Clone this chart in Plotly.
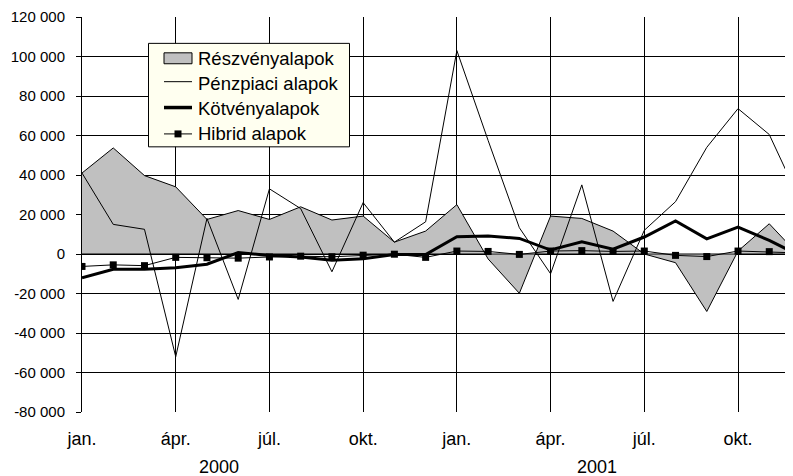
import plotly.graph_objects as go

# categories: months Jan 2000 .. Dec 2001
months = ["2000-01", "2000-02", "2000-03", "2000-04", "2000-05", "2000-06",
          "2000-07", "2000-08", "2000-09", "2000-10", "2000-11", "2000-12",
          "2001-01", "2001-02", "2001-03", "2001-04", "2001-05", "2001-06",
          "2001-07", "2001-08", "2001-09", "2001-10", "2001-11", "2001-12"]
x_idx = list(range(len(months)))

reszveny = [41000, 53700, 39700, 34000, 17500, 22000, 17500, 23900, 17200, 19200, 6000, 11600,
            25000, -2500, -19900, 19200, 18000, 11600, 0, -4400, -29100, 1500, 15300, -1500]
penzpiaci = [41000, 15000, 12500, -52000, 18000, -23000, 33000, 23000, -9000, 26000, 6000, 16300,
             103000, 57500, 13300, -10000, 35000, -24000, 12000, 26500, 54000, 73600, 60500, 26500]
kotveny = [-12000, -7700, -7700, -6900, -5200, 700, -700, -1500, -3200, -2400, -300, -300,
           8700, 9100, 7900, 2000, 6200, 2400, 8600, 16700, 7700, 13600, 6900, -1000]
hibrid = [-6300, -5500, -5900, -1700, -1900, -2100, -1500, -1100, -1400, -600, -100, -1700,
          1500, 1300, -200, 1500, 1700, 1300, 1500, -700, -1300, 1500, 1200, 500]

series_names = ["Részvényalapok", "Pénzpiaci alapok", "Kötvényalapok", "Hibrid alapok"]

x_tick_pos = [0, 3, 6, 9, 12, 15, 18, 21]
x_tick_text = ["jan.", "ápr.", "júl.", "okt.", "jan.", "ápr.", "júl.", "okt."]
year_labels = ["2000", "2001"]
year_pos = [4.4, 16.5]

y_tick_vals = [120000, 100000, 80000, 60000, 40000, 20000, 0, -20000, -40000, -60000, -80000]
y_tick_text = ["120 000", "100 000", "80 000", "60 000", "40 000", "20 000", "0",
               "-20 000", "-40 000", "-60 000", "-80 000"]

FONT = "Liberation Sans, Arial, sans-serif"

# layout geometry (figure pixels; the page adds an 8px body margin)
W, H = 785, 468
ML, MR, MT, MB = 74, 0, 7, 64
PW, PH = W - ML - MR, H - MT - MB
OFF = 8


def px(xs):
    return (xs - OFF - ML) / PW


def py(ys):
    return (MT + PH - (ys - OFF)) / PH


fig = go.Figure()
fig.add_trace(go.Scatter(x=x_idx, y=reszveny, name=series_names[0], mode="lines",
                         fill="tozeroy", fillcolor="#C0C0C0",
                         line=dict(color="black", width=1)))
fig.add_trace(go.Scatter(x=x_idx, y=penzpiaci, name=series_names[1], mode="lines",
                         line=dict(color="black", width=1)))
fig.add_trace(go.Scatter(x=x_idx, y=kotveny, name=series_names[2], mode="lines",
                         line=dict(color="black", width=3)))
fig.add_trace(go.Scatter(x=x_idx, y=hibrid, name=series_names[3], mode="lines+markers",
                         line=dict(color="black", width=1),
                         marker=dict(symbol="square", size=7, color="black")))

for txt, xp in zip(year_labels, year_pos):
    fig.add_annotation(x=xp, xref="x", y=py(467), yref="paper", text=txt, showarrow=False,
                       font=dict(family=FONT, size=18, color="black"), yanchor="middle")

# zero line on top of the area
fig.add_shape(type="line", xref="paper", x0=0, x1=1, yref="y", y0=0, y1=0,
              line=dict(color="black", width=1), layer="above")

# legend box (drawn by hand to match the original's compact layout)
fig.add_shape(type="rect", xref="paper", yref="paper",
              x0=px(148.5), x1=px(349.5), y0=py(145.5), y1=py(41.5),
              fillcolor="#FFFFF0", line=dict(color="black", width=1), layer="above")
row_y = [56.5, 81.5, 106.5, 132.5]
sym_x0, sym_x1 = 164, 192
# Részvényalapok: grey box
fig.add_shape(type="rect", xref="paper", yref="paper",
              x0=px(sym_x0), x1=px(sym_x1), y0=py(row_y[0] + 5.5), y1=py(row_y[0] - 5.5),
              fillcolor="#C0C0C0", line=dict(color="black", width=1), layer="above")
# Pénzpiaci: thin line
fig.add_shape(type="line", xref="paper", yref="paper",
              x0=px(sym_x0), x1=px(sym_x1), y0=py(row_y[1] - 1.5), y1=py(row_y[1] - 1.5),
              line=dict(color="black", width=1), layer="above")
# Kötvény: thick line
fig.add_shape(type="line", xref="paper", yref="paper",
              x0=px(sym_x0), x1=px(sym_x1), y0=py(row_y[2] - 0.5), y1=py(row_y[2] - 0.5),
              line=dict(color="black", width=3.5), layer="above")
# Hibrid: line with square marker
fig.add_shape(type="line", xref="paper", yref="paper",
              x0=px(sym_x0), x1=px(sym_x1), y0=py(row_y[3]), y1=py(row_y[3]),
              line=dict(color="black", width=1), layer="above")
fig.add_shape(type="rect", xref="paper", yref="paper",
              x0=px(174.5), x1=px(181.5), y0=py(row_y[3] + 3.5), y1=py(row_y[3] - 3.5),
              fillcolor="black", line=dict(color="black", width=0), layer="above")
for name, ry in zip(series_names, row_y):
    fig.add_annotation(x=px(196), xref="paper", y=py(ry), yref="paper", text=name,
                       showarrow=False, xanchor="left", yanchor="middle",
                       font=dict(family=FONT, size=18.5, color="black"))

fig.update_layout(
    width=W, height=H,
    margin=dict(l=ML, r=MR, t=MT, b=MB),
    paper_bgcolor="white", plot_bgcolor="white",
    font=dict(family=FONT, color="black"),
    showlegend=False,
    xaxis=dict(range=[0, 22.76], tickvals=x_tick_pos, ticktext=x_tick_text,
               showgrid=True, gridcolor="black", gridwidth=1, zeroline=False,
               showline=False, ticks="", ticklabelstandoff=14,
               tickfont=dict(family=FONT, size=18, color="black")),
    yaxis=dict(range=[-80000, 120000], tickvals=y_tick_vals, ticktext=y_tick_text,
               showgrid=True, gridcolor="black", gridwidth=1, zeroline=False,
               showline=True, linecolor="black", linewidth=1,
               ticks="outside", ticklen=5, tickcolor="black", ticklabelstandoff=8,
               ticklabeloverflow="allow",
               tickfont=dict(family=FONT, size=15, color="black")),
)

fig.write_html("out.html")
